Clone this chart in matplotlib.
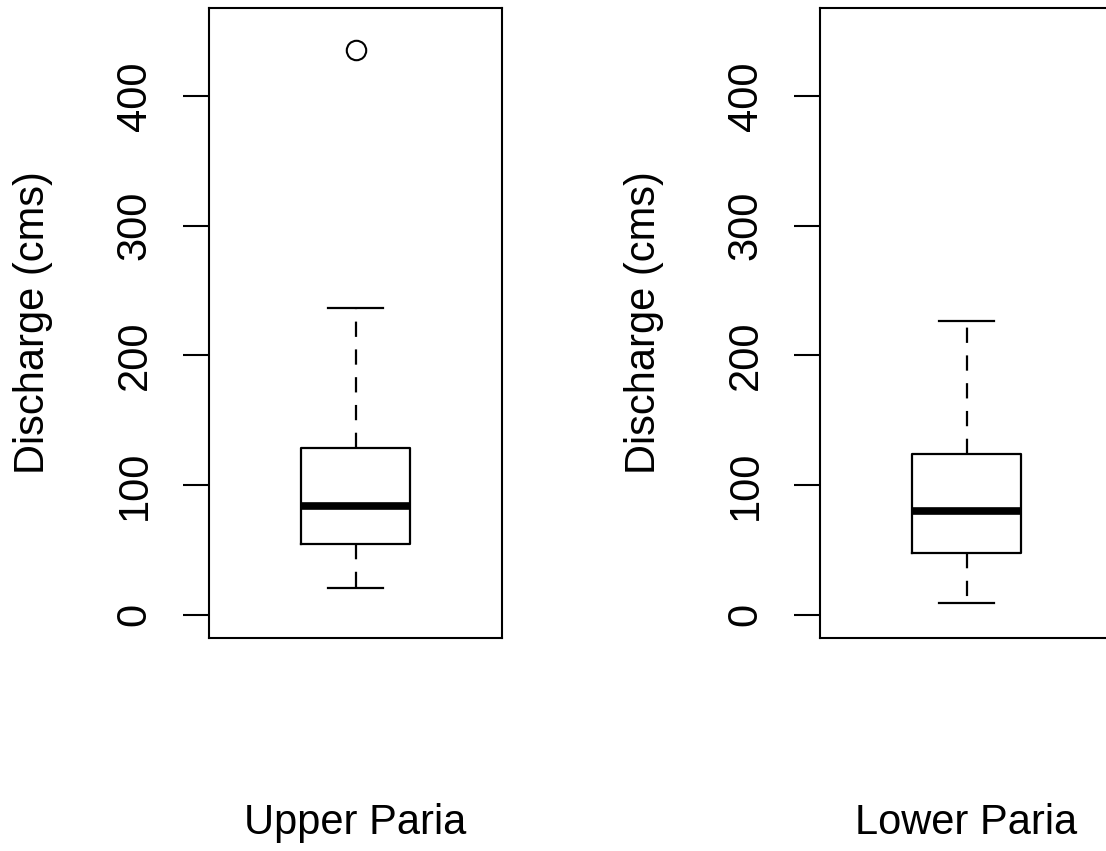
import matplotlib
matplotlib.use("Agg")
import matplotlib.pyplot as plt

plt.rcParams['font.family'] = ['Liberation Sans', 'DejaVu Sans']
plt.rcParams['lines.scale_dashes'] = False

# data (cms)
sites = ["Upper Paria", "Lower Paria"]
whislo = [20.6, 9.0]
q1 = [54.5, 47.6]
med = [83.8, 80.0]
q3 = [128.6, 124.0]
whishi = [236.6, 226.5]
fliers = [[435.6], []]

yticks = [0, 100, 200, 300, 400]

fig = plt.figure(figsize=(11.06, 8.51), dpi=100)
lefts = [209 / 1106, 820 / 1106]

for i, site in enumerate(sites):
    ax = fig.add_axes([lefts[i], 1 - 638 / 851, 293 / 1106, 630 / 851])
    stats = [{
        'whislo': whislo[i], 'q1': q1[i], 'med': med[i],
        'q3': q3[i], 'whishi': whishi[i], 'fliers': fliers[i],
    }]
    ax.bxp(stats, positions=[1], widths=0.4,
           boxprops=dict(color='black', linewidth=1.6),
           medianprops=dict(color='black', linewidth=5.5,
                            solid_capstyle='butt'),
           whiskerprops=dict(color='black', linewidth=1.6,
                             linestyle=(0, (11, 9))),
           capprops=dict(color='black', linewidth=1.6),
           capwidths=0.2,
           flierprops=dict(marker='o', markersize=14, markerfacecolor='none',
                           markeredgecolor='black', markeredgewidth=1.5))
    ax.set_xlim(0.46, 1.54)
    ax.set_ylim(-18, 468)
    ax.set_xticks([])
    ax.set_yticks(yticks)
    ax.set_yticklabels([str(t) for t in yticks], rotation=90, va='center',
                       fontsize=30)
    ax.tick_params(axis='y', length=19, width=1.5, pad=20)
    for s in ax.spines.values():
        s.set_linewidth(1.5)
    ax.set_ylabel("Discharge (cms)", fontsize=30, va='center')
    ax.yaxis.set_label_coords(-0.60, 0.5)
    ax.set_xlabel(site, fontsize=30, va='center')
    ax.xaxis.set_label_coords(0.5, -0.294)

fig.savefig("out.png", dpi=100)
